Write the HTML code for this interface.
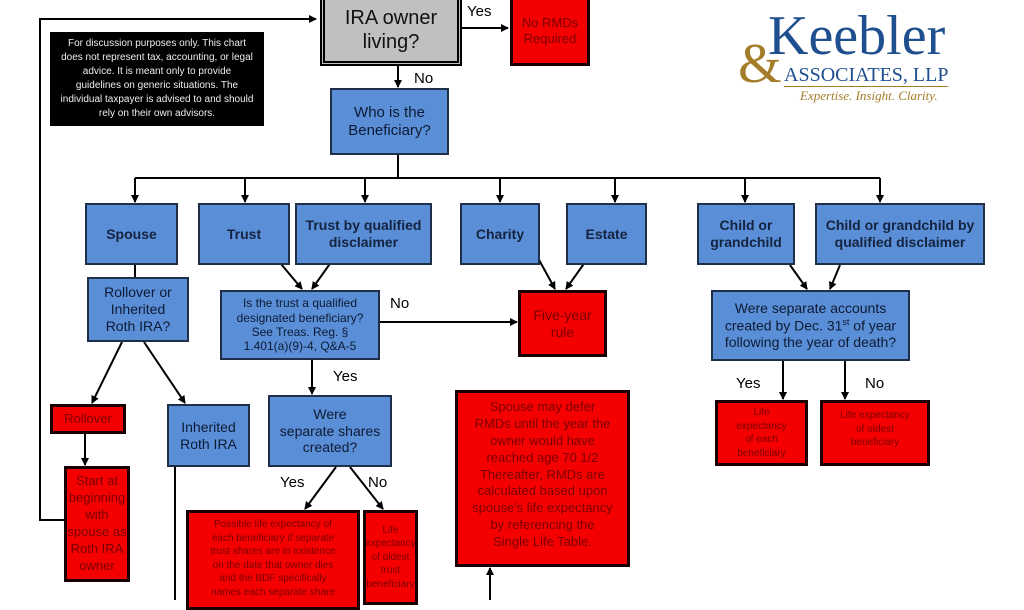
<!DOCTYPE html>
<html><head><meta charset="utf-8"><style>
body{margin:0;width:1024px;height:600px;overflow:hidden;background:#fff;position:relative;font-family:"Liberation Sans",Arial,sans-serif}
.b{position:absolute;box-sizing:border-box;display:flex;align-items:center;justify-content:center;text-align:center;line-height:1.2}
.blue{background:#5a8fd8;border:2px solid #1f2f4a;color:#0d1a33;font-size:15px}
.bold{font-weight:bold;font-size:14px;color:#14233f}
.red{background:#f40000;border:3px solid #1a0000;color:#7a0000;font-size:13px}
.lbl{position:absolute;font-size:15px;color:#000}
svg{position:absolute;left:0;top:0}
</style></head><body>
<svg width="1024" height="600">
<defs><marker id="a" markerWidth="8" markerHeight="8" refX="7" refY="4" orient="auto" markerUnits="userSpaceOnUse"><path d="M0,0 L8,4 L0,8z" fill="#000"/></marker></defs>
<g stroke="#000" stroke-width="2" fill="none">
<polyline points="66,520 40,520 40,19 316,19" marker-end="url(#a)"/>
<line x1="462" y1="28" x2="508" y2="28" marker-end="url(#a)"/>
<line x1="398" y1="65" x2="398" y2="87" marker-end="url(#a)"/>
<line x1="398" y1="155" x2="398" y2="178"/>
<line x1="135" y1="178" x2="880" y2="178"/>
<line x1="135" y1="178" x2="135" y2="202" marker-end="url(#a)"/>
<line x1="245" y1="178" x2="245" y2="202" marker-end="url(#a)"/>
<line x1="365" y1="178" x2="365" y2="202" marker-end="url(#a)"/>
<line x1="500" y1="178" x2="500" y2="202" marker-end="url(#a)"/>
<line x1="615" y1="178" x2="615" y2="202" marker-end="url(#a)"/>
<line x1="745" y1="178" x2="745" y2="202" marker-end="url(#a)"/>
<line x1="880" y1="178" x2="880" y2="202" marker-end="url(#a)"/>
<line x1="135" y1="265" x2="135" y2="277"/>
<line x1="122" y1="342" x2="92" y2="403" marker-end="url(#a)"/>
<line x1="144" y1="342" x2="185" y2="403" marker-end="url(#a)"/>
<line x1="85" y1="434" x2="85" y2="465" marker-end="url(#a)"/>
<line x1="175" y1="467" x2="175" y2="600"/>
<line x1="276" y1="258" x2="302" y2="289" marker-end="url(#a)"/>
<line x1="334" y1="258" x2="312" y2="289" marker-end="url(#a)"/>
<line x1="538" y1="258" x2="555" y2="289" marker-end="url(#a)"/>
<line x1="588" y1="258" x2="566" y2="289" marker-end="url(#a)"/>
<line x1="380" y1="322" x2="517" y2="322" marker-end="url(#a)"/>
<line x1="312" y1="360" x2="312" y2="394" marker-end="url(#a)"/>
<line x1="336" y1="467" x2="305" y2="509" marker-end="url(#a)"/>
<line x1="350" y1="467" x2="383" y2="509" marker-end="url(#a)"/>
<line x1="490" y1="600" x2="490" y2="568" marker-end="url(#a)"/>
<line x1="790" y1="265" x2="807" y2="289" marker-end="url(#a)"/>
<line x1="840" y1="265" x2="830" y2="289" marker-end="url(#a)"/>
<line x1="783" y1="361" x2="783" y2="399" marker-end="url(#a)"/>
<line x1="845" y1="361" x2="845" y2="399" marker-end="url(#a)"/>
</g></svg>

<div class="b" style="left:320px;top:-30px;width:142px;height:96px;background:#c0c0c0;border:5px double #000;font-size:20px;color:#111;line-height:24px"><span>Is the Roth<br>IRA owner<br>living?</span></div>
<div class="lbl" style="left:467px;top:3px">Yes</div>
<div class="b red" style="left:510px;top:-5px;width:80px;height:71px"><span>No RMDs<br>Required</span></div>
<div class="b" style="left:50px;top:32px;width:214px;height:94px;background:#000;color:#eee;font-size:10px;line-height:1.4;padding:0 10px"><span>For discussion purposes only. This chart does not represent tax, accounting, or legal advice. It is meant only to provide guidelines on generic situations. The individual taxpayer is advised to and should rely on their own advisors.</span></div>
<div class="lbl" style="left:414px;top:70px">No</div>
<div class="b blue" style="left:330px;top:88px;width:119px;height:67px"><span>Who is the<br>Beneficiary?</span></div>

<div class="b blue bold" style="left:85px;top:203px;width:93px;height:62px"><span>Spouse</span></div>
<div class="b blue bold" style="left:198px;top:203px;width:92px;height:62px"><span>Trust</span></div>
<div class="b blue bold" style="left:295px;top:203px;width:137px;height:62px"><span>Trust by qualified<br>disclaimer</span></div>
<div class="b blue bold" style="left:460px;top:203px;width:80px;height:62px"><span>Charity</span></div>
<div class="b blue bold" style="left:566px;top:203px;width:81px;height:62px"><span>Estate</span></div>
<div class="b blue bold" style="left:697px;top:203px;width:98px;height:62px"><span>Child or<br>grandchild</span></div>
<div class="b blue bold" style="left:815px;top:203px;width:170px;height:62px"><span>Child or grandchild by<br>qualified disclaimer</span></div>

<div class="b blue" style="left:87px;top:277px;width:102px;height:65px;font-size:14px"><span>Rollover or<br>Inherited<br>Roth IRA?</span></div>
<div class="b red" style="left:50px;top:404px;width:76px;height:30px;font-size:13px"><span>Rollover</span></div>
<div class="b blue" style="left:167px;top:404px;width:83px;height:63px;font-size:14px"><span>Inherited<br>Roth IRA</span></div>
<div class="b red" style="left:64px;top:466px;width:66px;height:116px;font-size:13px;line-height:1.3"><span>Start at<br>beginning<br>with<br>spouse as<br>Roth IRA<br>owner</span></div>

<div class="b blue" style="left:220px;top:290px;width:160px;height:70px;font-size:12px"><span>Is the trust a qualified<br>designated beneficiary?<br>See Treas. Reg. §<br>1.401(a)(9)-4, Q&amp;A-5</span></div>
<div class="lbl" style="left:390px;top:295px">No</div>
<div class="b red" style="left:518px;top:290px;width:89px;height:67px;font-size:14px"><span>Five-year<br>rule</span></div>
<div class="lbl" style="left:333px;top:368px">Yes</div>
<div class="b blue" style="left:268px;top:395px;width:124px;height:72px;font-size:14px"><span>Were<br>separate shares<br>created?</span></div>
<div class="lbl" style="left:280px;top:474px">Yes</div>
<div class="lbl" style="left:368px;top:474px">No</div>
<div class="b red" style="left:186px;top:510px;width:174px;height:100px;font-size:10px;line-height:1.35;align-items:flex-start;padding-top:5px"><span>Possible life expectancy of<br>each beneficiary if separate<br>trust shares are in existence<br>on the date that owner dies<br>and the BDF specifically<br>names each separate share</span></div>
<div class="b red" style="left:363px;top:510px;width:55px;height:95px;font-size:10px;line-height:1.35"><span>Life<br>expectancy<br>of oldest<br>trust<br>beneficiary</span></div>

<div class="b red" style="left:455px;top:390px;width:175px;height:177px;font-size:13px;line-height:1.3;align-items:flex-start;padding-top:6px"><span>Spouse may defer<br>RMDs until the year the<br>owner would have<br>reached age 70 1/2<br>Thereafter, RMDs are<br>calculated based upon<br>spouse's life expectancy<br>by referencing the<br>Single Life Table.</span></div>

<div class="b blue" style="left:711px;top:290px;width:199px;height:71px;font-size:14px"><span>Were separate accounts<br>created by Dec. 31<sup style="font-size:9px">st</sup> of year<br>following the year of death?</span></div>
<div class="lbl" style="left:736px;top:375px">Yes</div>
<div class="lbl" style="left:865px;top:375px">No</div>
<div class="b red" style="left:715px;top:400px;width:93px;height:66px;font-size:10px;line-height:1.35"><span>Life<br>expectancy<br>of each<br>beneficiary</span></div>
<div class="b red" style="left:820px;top:400px;width:110px;height:66px;font-size:10px;line-height:1.35;align-items:flex-start;padding-top:6px"><span>Life expectancy<br>of oldest<br>beneficiary</span></div>

<div style="position:absolute;left:768px;top:8px;font-family:'Liberation Serif',serif;font-size:56px;color:#1f4f8f;line-height:1">Keebler</div>
<div style="position:absolute;left:738px;top:36px;font-family:'Liberation Serif',serif;font-size:56px;color:#a47d2a;line-height:1">&amp;</div>
<div style="position:absolute;left:784px;top:65px;font-family:'Liberation Serif',serif;font-size:20px;color:#1f4f8f;line-height:1">ASSOCIATES, LLP</div>
<div style="position:absolute;left:784px;top:86px;width:164px;height:1px;background:#a47d2a"></div>
<div style="position:absolute;left:800px;top:89px;font-family:'Liberation Serif',serif;font-style:italic;font-size:13px;color:#a47d2a;line-height:1">Expertise. Insight. Clarity.</div>
</body></html>
